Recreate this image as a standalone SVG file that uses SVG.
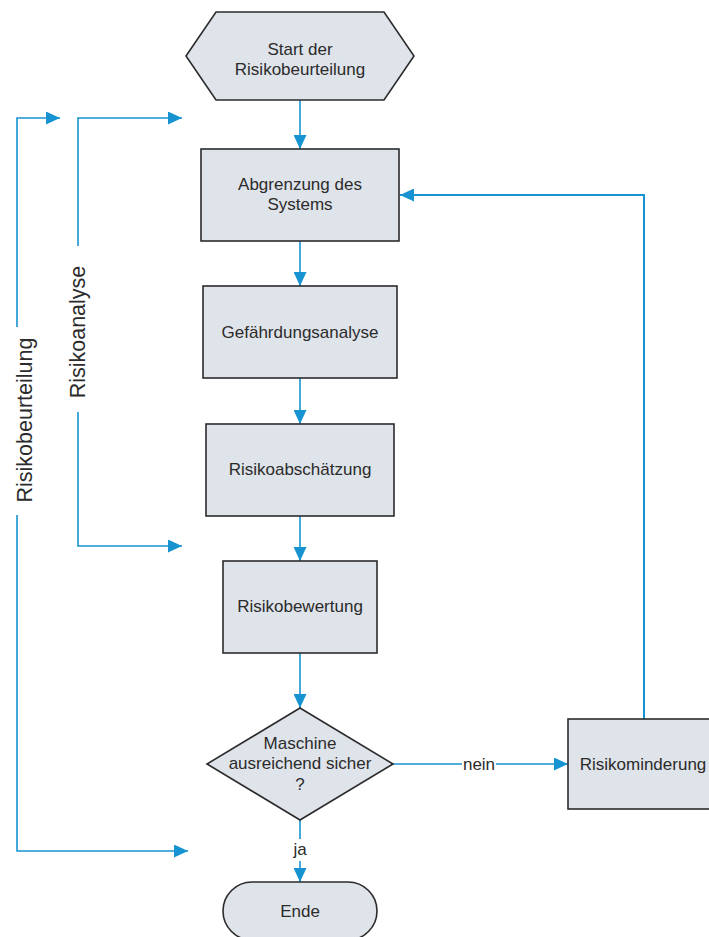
<svg xmlns="http://www.w3.org/2000/svg" width="709" height="937" viewBox="0 0 709 937">
<defs>
<style>
.n{fill:#dfe3ea;stroke:#2b2b2b;stroke-width:1.6}
.t{font-family:"Liberation Sans",Arial,sans-serif;font-size:17px;fill:#2b2b2b;text-anchor:middle}
.lbl{font-family:"Liberation Sans",Arial,sans-serif;font-size:21.5px;fill:#2b2b2b;text-anchor:middle}
.c{fill:none;stroke:#1793d1;stroke-width:1.6}
.bg{fill:#ffffff}
</style>
<marker id="ah" markerUnits="userSpaceOnUse" markerWidth="14" markerHeight="13" refX="14" refY="6.5" orient="auto">
<path d="M0,0 L14,6.5 L0,13 z" fill="#1793d1"/>
</marker>
</defs>
<rect width="709" height="937" fill="#ffffff"/>
<g id="connectors">
<path class="c" d="M300,100 V149" marker-end="url(#ah)"/>
<path class="c" d="M300,241 V286" marker-end="url(#ah)"/>
<path class="c" d="M300,378 V424" marker-end="url(#ah)"/>
<path class="c" d="M300,516 V561" marker-end="url(#ah)"/>
<path class="c" d="M300,653 V708" marker-end="url(#ah)"/>
<path class="c" d="M300,820 V882" marker-end="url(#ah)"/>
<path class="c" d="M393,764 H568" marker-end="url(#ah)"/>
<path class="c" style="stroke-width:2" d="M644,719 V195 H400" marker-end="url(#ah)"/>
<path class="c" d="M17,327 V118 H60" marker-end="url(#ah)"/>
<path class="c" d="M17,515 V851 H188" marker-end="url(#ah)"/>
<path class="c" d="M78,246 V118 H182" marker-end="url(#ah)"/>
<path class="c" d="M78,412 V546 H182" marker-end="url(#ah)"/>
<rect class="bg" x="462" y="755" width="34" height="18"/>
<text class="t" x="479" y="770">nein</text>
<rect class="bg" x="290" y="839" width="20" height="22"/>
<text class="t" x="300" y="855">ja</text>
</g>
<g id="label-risikobeurteilung">
<text class="lbl" transform="translate(32,420) rotate(-90)">Risikobeurteilung</text>
</g>
<g id="label-risikoanalyse">
<text class="lbl" transform="translate(85,332) rotate(-90)">Risikoanalyse</text>
</g>
<g id="start">
<polygon class="n" points="186,56 216,12 384,12 414,56 384,100 216,100"/>
<text class="t" x="300" y="55">Start der</text>
<text class="t" x="300" y="75">Risikobeurteilung</text>
</g>
<g id="abgrenzung">
<rect class="n" x="201" y="149" width="198" height="92"/>
<text class="t" x="300" y="190">Abgrenzung des</text>
<text class="t" x="300" y="210">Systems</text>
</g>
<g id="gefaehrdung">
<rect class="n" x="203" y="286" width="194" height="92"/>
<text class="t" x="300" y="338">Gefährdungsanalyse</text>
</g>
<g id="abschaetzung">
<rect class="n" x="206" y="424" width="188" height="92"/>
<text class="t" x="300" y="475">Risikoabschätzung</text>
</g>
<g id="bewertung">
<rect class="n" x="223" y="561" width="154" height="92"/>
<text class="t" x="300" y="612">Risikobewertung</text>
</g>
<g id="entscheidung">
<polygon class="n" points="300,708 393,764 300,820 207,764"/>
<text class="t" x="300" y="749">Maschine</text>
<text class="t" x="300" y="769">ausreichend sicher</text>
<text class="t" x="300" y="790">?</text>
</g>
<g id="minderung">
<rect class="n" x="568" y="719" width="146" height="90"/>
<text class="t" x="643" y="770">Risikominderung</text>
</g>
<g id="ende">
<rect class="n" x="223" y="882" width="154" height="58" rx="29" ry="29"/>
<text class="t" x="300" y="917">Ende</text>
</g>
</svg>
